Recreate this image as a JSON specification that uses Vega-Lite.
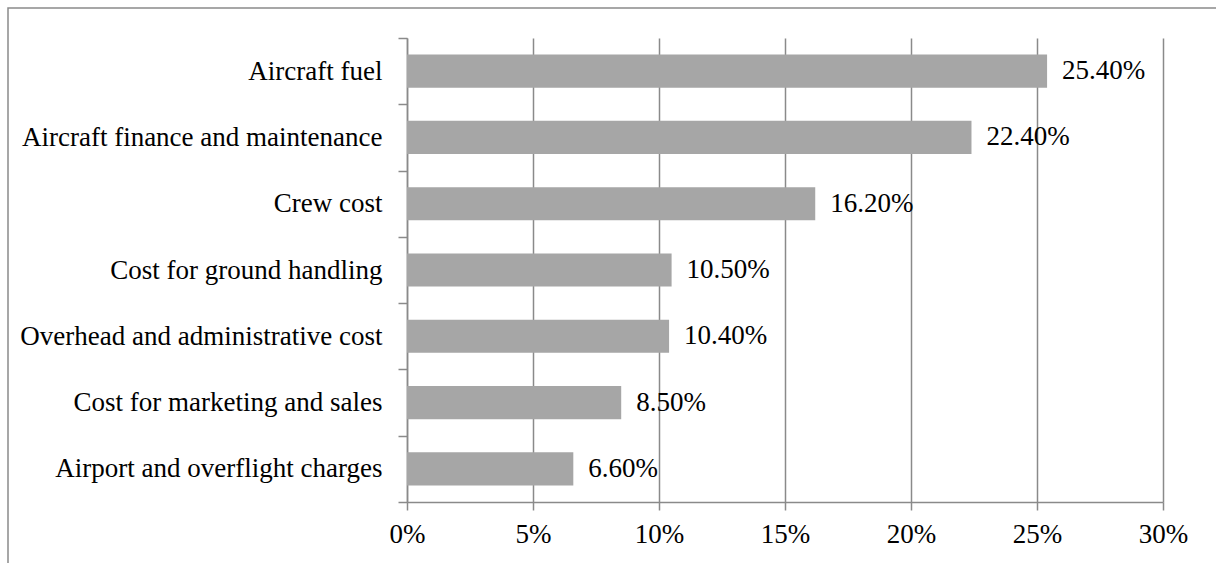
{
  "$schema": "https://vega.github.io/schema/vega-lite/v6.json",
  "width": 1208,
  "height": 555,
  "autosize": {"type": "none"},
  "padding": {"left": 8, "top": 8, "right": 0, "bottom": 0},
  "background": "white",
  "config": {
    "view": {"stroke": "#8a8a8a", "strokeWidth": 1.5, "strokeDash": [1208, 1763, 555]},
    "font": "Liberation Serif"
  },
  "data": {
    "values": [
      {"cat": "Aircraft fuel", "v": 0.254},
      {"cat": "Aircraft finance and maintenance", "v": 0.224},
      {"cat": "Crew cost", "v": 0.162},
      {"cat": "Cost for ground handling", "v": 0.105},
      {"cat": "Overhead and administrative cost", "v": 0.104},
      {"cat": "Cost for marketing and sales", "v": 0.085},
      {"cat": "Airport and overflight charges", "v": 0.066}
    ]
  },
  "resolve": {"scale": {"y": "independent"}, "axis": {"x": "independent", "y": "independent"}},
  "layer": [
    {
      "mark": {"type": "bar", "opacity": 0},
      "encoding": {
        "y": {
          "field": "cat",
          "type": "nominal",
          "sort": null,
          "scale": {"range": [61, 525], "paddingInner": 0, "paddingOuter": 0},
          "axis": null
        },
        "x": {
          "field": "v",
          "type": "quantitative",
          "scale": {"domain": [0, 0.3], "range": [399, 1155], "nice": false},
          "axis": {
            "title": null,
            "orient": "bottom",
            "offset": -61,
            "values": [0, 0.05, 0.1, 0.15, 0.2, 0.25, 0.3],
            "format": ".0%",
            "tickSize": 8,
            "tickColor": "#8a8a8a",
            "tickWidth": 1.5,
            "labelPadding": 11,
            "labelFont": "Liberation Serif",
            "labelFontSize": 27,
            "labelColor": "black",
            "labelFlush": false,
            "labelOverlap": false,
            "domainColor": "#8a8a8a",
            "domainWidth": 1.5,
            "grid": true,
            "gridColor": "#8a8a8a",
            "gridWidth": 1.5
          }
        }
      }
    },
    {
      "encoding": {
        "y": {
          "field": "cat",
          "type": "nominal",
          "sort": null,
          "scale": {"range": [30, 494], "paddingInner": 0, "paddingOuter": 0},
          "axis": {
            "title": null,
            "orient": "left",
            "offset": -399,
            "domainColor": "#8a8a8a",
            "domainWidth": 1.5,
            "tickColor": "#8a8a8a",
            "tickWidth": 1.5,
            "tickSize": 9,
            "tickBand": "extent",
            "labelPadding": 16,
            "labelFont": "Liberation Serif",
            "labelFontSize": 27,
            "labelColor": "black",
            "labelLimit": 0,
            "grid": false
          }
        }
      },
      "layer": [
        {
          "mark": {"type": "bar", "color": "#a6a6a6", "height": {"band": 0.5}},
          "encoding": {
            "x": {"field": "v", "type": "quantitative", "axis": null}
          }
        },
        {
          "mark": {"type": "text", "align": "left", "baseline": "middle", "dx": 15, "fontSize": 27, "font": "Liberation Serif", "color": "black"},
          "encoding": {
            "x": {"field": "v", "type": "quantitative", "axis": null},
            "text": {"field": "v", "type": "quantitative", "format": ".2%"}
          }
        }
      ]
    }
  ]
}
